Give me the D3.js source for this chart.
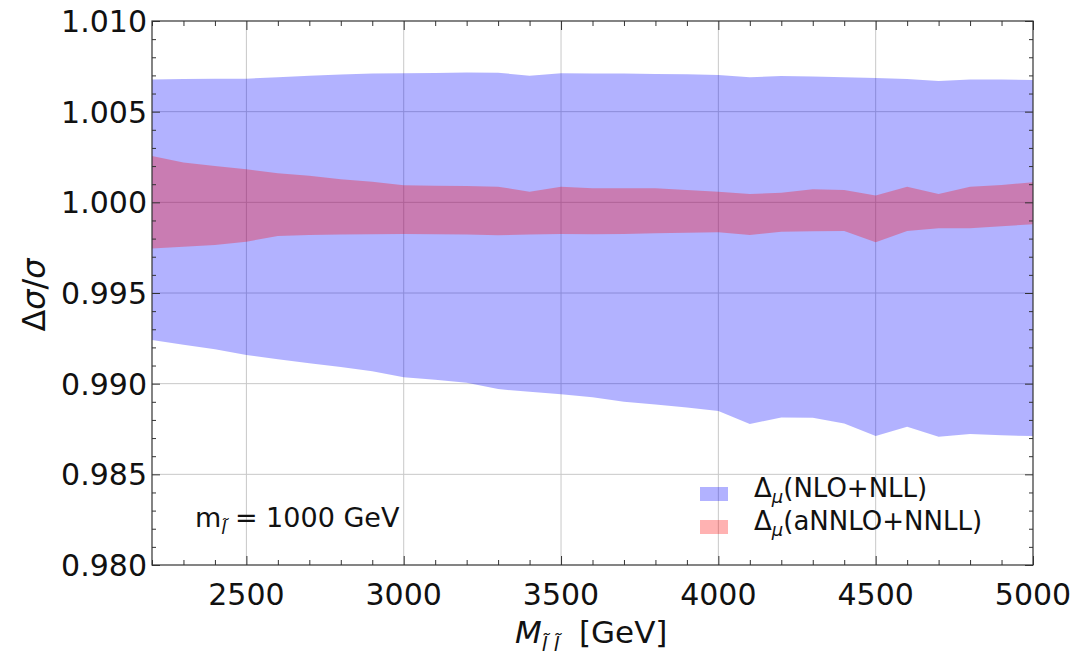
<!DOCTYPE html>
<html>
<head>
<meta charset="utf-8">
<script src="https://cdn.jsdelivr.net/npm/d3@7"></script>
<style>
  body { margin: 0; background: #fff; }
  text { font-family: "DejaVu Sans", "Liberation Sans", Arial, sans-serif; fill: #111; }
</style>
</head>
<body>
<svg width="1072" height="667"></svg>
<script>
// invariant mass points (GeV)
var masses = [2200, 2300, 2400, 2500, 2600, 2700, 2800, 2900, 3000, 3100, 3200, 3300, 3400, 3500,
  3600, 3700, 3800, 3900, 4000, 4100, 4200, 4300, 4400, 4500, 4600, 4700, 4800, 4900, 5000];

// NLO+NLL scale band
var nloUpper = [1.00678, 1.00680, 1.00681, 1.00682, 1.00690, 1.00698, 1.00705, 1.00710, 1.00712, 1.00713,
  1.00716, 1.00715, 1.00698, 1.00712, 1.00711, 1.00710, 1.00708, 1.00706, 1.00702, 1.00690,
  1.00697, 1.00694, 1.00690, 1.00686, 1.00680, 1.00669, 1.00678, 1.00677, 1.00675];
var nloLower = [0.99241, 0.99215, 0.99190, 0.99158, 0.99135, 0.99112, 0.99092, 0.99068, 0.99035, 0.99022,
  0.99005, 0.98970, 0.98955, 0.98941, 0.98925, 0.98900, 0.98885, 0.98868, 0.98849, 0.98777,
  0.98814, 0.98812, 0.98781, 0.98711, 0.98762, 0.98707, 0.98722, 0.98715, 0.98711];

// aNNLO+NNLL scale band
var nnloUpper = [1.00255, 1.00219, 1.00200, 1.00182, 1.00160, 1.00147, 1.00127, 1.00114, 1.00094, 1.00092,
  1.00090, 1.00086, 1.00059, 1.00086, 1.00077, 1.00077, 1.00077, 1.00068, 1.00059, 1.00046,
  1.00053, 1.00072, 1.00068, 1.00037, 1.00086, 1.00046, 1.00086, 1.00096, 1.00111];
var nnloLower = [0.99746, 0.99755, 0.99765, 0.99783, 0.99814, 0.99820, 0.99822, 0.99824, 0.99825, 0.99824,
  0.99822, 0.99818, 0.99822, 0.99825, 0.99824, 0.99826, 0.99829, 0.99832, 0.99835, 0.99820,
  0.99838, 0.99840, 0.99842, 0.99780, 0.99842, 0.99857, 0.99857, 0.99868, 0.99879];

var xTicks = [2500, 3000, 3500, 4000, 4500, 5000];
var yTicks = [0.980, 0.985, 0.990, 0.995, 1.000, 1.005, 1.010];

var svg = d3.select('svg');
var pLeft = 152, pRight = 1033, pTop = 21, pBottom = 565;

var x = d3.scaleLinear().domain([2200, 5000]).range([pLeft, pRight]);
var y = d3.scaleLinear().domain([0.980, 1.010]).range([pBottom, pTop]);

// grid lines
svg.append('g').selectAll('line')
  .data(xTicks.filter(function(d) { return d < 5000; }))
  .enter().append('line')
    .attr('x1', function(d) { return x(d); })
    .attr('x2', function(d) { return x(d); })
    .attr('y1', pTop).attr('y2', pBottom)
    .attr('stroke', '#c8c8c8').attr('stroke-width', 1);
svg.append('g').selectAll('line')
  .data(yTicks.filter(function(d) { return d > 0.980 && d < 1.010; }))
  .enter().append('line')
    .attr('x1', pLeft).attr('x2', pRight)
    .attr('y1', function(d) { return y(d); })
    .attr('y2', function(d) { return y(d); })
    .attr('stroke', '#c8c8c8').attr('stroke-width', 1);

var band = function(lo, hi) {
  return d3.area()
    .x(function(d, i) { return x(masses[i]); })
    .y0(function(d, i) { return y(lo[i]); })
    .y1(function(d, i) { return y(hi[i]); })(masses);
};

svg.append('path').attr('d', band(nloLower, nloUpper))
  .attr('fill', 'rgb(0,0,255)').attr('fill-opacity', 0.3);
svg.append('path').attr('d', band(nnloLower, nnloUpper))
  .attr('fill', 'rgb(255,0,0)').attr('fill-opacity', 0.3);

// frame with inward ticks
var axisColor = '#333';
var minorX = d3.range(2200, 5001, 100);
var minorY = d3.range(0, 31).map(function(i) { return 0.980 + i * 0.001; });
var gx = svg.append('g').attr('transform', 'translate(0,' + pBottom + ')')
  .call(d3.axisBottom(x).tickValues(minorX).tickSize(-5).tickFormat(''));
var gxTop = svg.append('g').attr('transform', 'translate(0,' + pTop + ')')
  .call(d3.axisTop(x).tickValues(minorX).tickSize(-5).tickFormat(''));
var gy = svg.append('g').attr('transform', 'translate(' + pLeft + ',0)')
  .call(d3.axisLeft(y).tickValues(minorY).tickSize(-4).tickFormat(''));
var gyR = svg.append('g').attr('transform', 'translate(' + pRight + ',0)')
  .call(d3.axisRight(y).tickValues(minorY).tickSize(-4).tickFormat(''));

[gx, gxTop, gy, gyR].forEach(function(g) {
  g.select('.domain').remove();
  g.selectAll('line').attr('stroke', axisColor);
});
// longer major ticks
gx.selectAll('.tick line').filter(function(d) { return d % 500 === 0; }).attr('y2', -9);
gxTop.selectAll('.tick line').filter(function(d) { return d % 500 === 0; }).attr('y2', 9);
gy.selectAll('.tick line').filter(function(d) { return Math.round(d * 1000) % 5 === 0; }).attr('x2', 8);
gyR.selectAll('.tick line').filter(function(d) { return Math.round(d * 1000) % 5 === 0; }).attr('x2', -8);

svg.append('rect').attr('x', pLeft).attr('y', pTop)
  .attr('width', pRight - pLeft).attr('height', pBottom - pTop)
  .attr('fill', 'none').attr('stroke', axisColor).attr('stroke-width', 1.2);

// tick labels
svg.append('g').selectAll('text')
  .data(xTicks).enter().append('text')
    .attr('x', function(d) { return x(d); })
    .attr('y', 605)
    .attr('text-anchor', 'middle')
    .style('font-size', '30px')
    .text(function(d) { return d; });
svg.append('g').selectAll('text')
  .data(yTicks).enter().append('text')
    .attr('x', 147)
    .attr('y', function(d) { return y(d) + 11; })
    .attr('text-anchor', 'end')
    .style('font-size', '30px')
    .text(function(d) { return d3.format('.3f')(d); });

// axis titles
var yt = svg.append('text')
  .attr('transform', 'translate(45,295) rotate(-90)')
  .attr('text-anchor', 'middle')
  .style('font-size', '32px');
yt.append('tspan').text('Δ');
yt.append('tspan').style('font-style', 'italic').text('σ');
yt.append('tspan').text('/');
yt.append('tspan').style('font-style', 'italic').text('σ');

var xt = svg.append('text').attr('x', 515).attr('y', 643).style('font-size', '31px');
xt.append('tspan').style('font-style', 'italic').text('M');
xt.append('tspan').attr('dy', 8).style('font-size', '20px').style('font-style', 'italic').text('l\u0303 l\u0303');
xt.append('tspan').attr('dy', -8).text('\u00a0 [GeV]');

// annotation
var ann = svg.append('text').attr('x', 195).attr('y', 527).style('font-size', '27px');
ann.append('tspan').text('m');
ann.append('tspan').attr('dy', 7).style('font-size', '18px').style('font-style', 'italic').text('l\u0303');
ann.append('tspan').attr('dy', -7).text(' = 1000 GeV');

// legend
var legendNames = ['(NLO+NLL)', '(aNNLO+NNLL)'];
var legendColors = ['rgba(0,0,255,0.3)', 'rgba(255,0,0,0.3)'];
var lg = svg.append('g').selectAll('g').data(legendNames).enter().append('g')
  .attr('transform', function(d, i) { return 'translate(700,' + (487 + i * 33) + ')'; });
lg.append('rect').attr('width', 28).attr('height', 14)
  .attr('fill', function(d, i) { return legendColors[i]; });
var lt = lg.append('text').attr('x', 54).attr('y', 10).style('font-size', '26px');
lt.append('tspan').text('Δ');
lt.append('tspan').attr('dy', 6).style('font-size', '18px').style('font-style', 'italic').text('μ');
lt.append('tspan').attr('dy', -6).text(function(d) { return d; });
</script>
</body>
</html>
